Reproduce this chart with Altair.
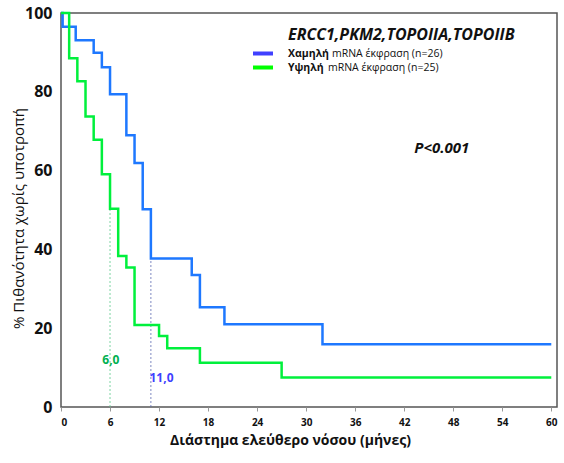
import altair as alt
import pandas as pd

# ---- data ----
times_low = [0, 0.2, 1.8, 4, 5, 6, 8, 9, 10, 11, 16, 17, 20, 32, 60]
surv_low = [100, 96.5, 93.1, 89.9, 86.2, 79.4, 69.0, 61.9, 50.2, 37.7, 33.5, 25.3, 21.0, 15.9, 15.9]
times_high = [0, 1, 2, 3, 4, 5, 6, 7, 8, 9, 12, 13, 17, 27, 60]
surv_high = [100, 88.5, 82.7, 73.7, 67.8, 59.1, 50.3, 38.3, 35.4, 20.8, 18.0, 14.9, 11.2, 7.5, 7.5]

median_times = [6, 11]
median_levels = [50.3, 50.2]
median_labels = ["6,0", "11,0"]
median_label_x = [6.1, 12.3]
median_label_y = [11.9, 7.4]

x_ticks = [0, 6, 12, 18, 24, 30, 36, 42, 48, 54, 60]
y_ticks = [0, 20, 40, 60, 80, 100]

title_text = "ERCC1,PKM2,TOPOIIA,TOPOIIB"
legend_bold = ["Χαμηλή", "Υψηλή"]
legend_rest = ["mRNA έκφραση  (n=26)", "mRNA έκφραση (n=25)"]
p_text = "P<0.001"

FONT = "Open Sans"
BLUE = "#1E78FF"
GREEN = "#00F03C"

df = pd.DataFrame(
    {"t": times_low + times_high,
     "s": surv_low + surv_high,
     "g": ["low"] * len(times_low) + ["high"] * len(times_high)}
)

xs = alt.Scale(domain=[0, 60.7], nice=False, zero=False)
ys = alt.Scale(domain=[0, 100], nice=False)

xaxis = alt.Axis(values=x_ticks, title="Διάστημα ελεύθερο νόσου (μήνες)", grid=False,
                 domain=False, tickColor="#999", tickSize=4, labelFontSize=10,
                 labelFontWeight="bold", labelColor="#111", labelPadding=6,
                 labelFont=FONT, titleFont=FONT, titleFontSize=14,
                 titleFontWeight="bold", titleColor="#111",
                 titleX=229, titleY=33, titleBaseline="middle", titleAnchor="middle")
yaxis = alt.Axis(values=y_ticks, title="% Πιθανότητα χωρίς υποτροπή", grid=False,
                 domain=False, ticks=False, labelFontSize=16, labelFontWeight="bold",
                 labelColor="#111", labelPadding=9, labelFont=FONT, titleFont=FONT,
                 titleFontSize=15, titleFontWeight="normal", titleColor="#111",
                 titleX=-43, titleY=205, titleAngle=-90, titleAlign="center",
                 titleBaseline="middle")

lines = alt.Chart(df).mark_line(interpolate="step-after", strokeWidth=2.5).encode(
    x=alt.X("t:Q", scale=xs, axis=xaxis),
    y=alt.Y("s:Q", scale=ys, axis=yaxis),
    color=alt.Color("g:N", scale=alt.Scale(domain=["low", "high"], range=[BLUE, GREEN]),
                    legend=None),
    detail="g:N",
)

med = pd.DataFrame({"t": median_times, "lvl": median_levels, "zero": [0, 0],
                    "c": ["g", "b"], "lab": median_labels,
                    "lx": median_label_x, "ly": median_label_y})

med_rules = alt.Chart(med).mark_rule(strokeWidth=0.8, strokeDash=[2, 2]).encode(
    x=alt.X("t:Q", scale=xs),
    y=alt.Y("zero:Q", scale=ys),
    y2="lvl:Q",
    color=alt.Color("c:N", scale=alt.Scale(domain=["g", "b"], range=["#5CC98A", "#5A6AB0"]),
                    legend=None),
)

med_text = alt.Chart(med).mark_text(font=FONT, fontSize=12, fontWeight="bold").encode(
    x=alt.X("lx:Q", scale=xs),
    y=alt.Y("ly:Q", scale=ys),
    text="lab:N",
    color=alt.Color("c:N", scale=alt.Scale(domain=["g", "b"], range=["#00B050", "#3F3FFF"]),
                    legend=None),
)

p_df = pd.DataFrame({"x": [46.6], "y": [65.7], "txt": [p_text]})
p_mark = alt.Chart(p_df).mark_text(font=FONT, fontSize=15, fontWeight="bold",
                                   fontStyle="italic", color="#111").encode(
    x=alt.X("x:Q", scale=xs), y=alt.Y("y:Q", scale=ys), text="txt:N")

title_df = pd.DataFrame({"txt": [title_text]})
title_mark = alt.Chart(title_df).mark_text(font=FONT, fontSize=16, fontWeight="bold",
                                           fontStyle="italic", align="left",
                                           baseline="middle", color="#111").encode(
    x=alt.value(227), y=alt.value(22), text="txt:N")

leg_df = pd.DataFrame({"b": legend_bold, "r": legend_rest, "c": ["low", "high"],
                       "yy": [40.5, 54.5], "rx": [271, 267]})
leg_lines = alt.Chart(leg_df).mark_rule(strokeWidth=4).encode(
    x=alt.value(192), x2=alt.value(212), y=alt.Y("yy:Q", scale=None),
    color=alt.Color("c:N", scale=alt.Scale(domain=["low", "high"], range=["#4040FF", "#00FF00"]),
                    legend=None),
)
leg_bold = alt.Chart(leg_df).mark_text(font=FONT, fontSize=10.5, fontWeight="bold",
                                       align="left", baseline="middle", color="#111").encode(
    x=alt.value(227), y=alt.Y("yy:Q", scale=None), text="b:N")
leg_rest = alt.Chart(leg_df).mark_text(font=FONT, fontSize=10.5, align="left",
                                       baseline="middle", color="#111").encode(
    x=alt.X("rx:Q", scale=None), y=alt.Y("yy:Q", scale=None), text="r:N")

chart = alt.layer(
    med_rules, lines, med_text, p_mark, title_mark, leg_lines, leg_bold, leg_rest
).resolve_scale(color="independent").properties(
    width=496, height=394,
    autosize=alt.AutoSizeParams(type="none"),
    padding={"left": 61, "top": 13, "right": 7, "bottom": 56},
    background="white",
).configure_view(stroke="#555", strokeWidth=1.5)

chart.save("out.html", embed_options={"renderer": "svg", "actions": False})
